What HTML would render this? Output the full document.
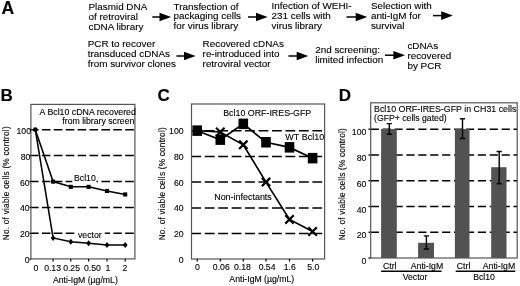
<!DOCTYPE html>
<html><head><meta charset="utf-8"><title>Figure</title>
<style>
html,body{margin:0;padding:0;background:#fff;}
body{width:520px;height:286px;overflow:hidden;}
svg{display:block;font-family:"Liberation Sans",sans-serif;fill:#000;}
text{stroke:#000;stroke-width:.12px;}
</style></head><body>
<svg width="520" height="286" viewBox="0 0 520 286">
<rect width="520" height="286" fill="#fff"/>
<text x="1.5" y="13.9" font-size="17.6" font-weight="bold">A</text>
<text x="88.5" y="9.9" font-size="9.9">Plasmid DNA</text>
<text x="88.5" y="19.7" font-size="9.9">of retroviral</text>
<text x="88.5" y="29.5" font-size="9.9">cDNA library</text>
<line x1="152.3" y1="17" x2="160.5" y2="17" stroke="#000" stroke-width="1.5"/><polygon points="159.5,12.7 171.1,17 159.5,21.3" fill="#000"/>
<text x="173.5" y="9.5" font-size="9.9">Transfection of</text>
<text x="173.5" y="19.3" font-size="9.9">packaging cells</text>
<text x="173.5" y="29.1" font-size="9.9">for virus library</text>
<line x1="248" y1="17" x2="257.0" y2="17" stroke="#000" stroke-width="1.5"/><polygon points="256.0,12.7 267.6,17 256.0,21.3" fill="#000"/>
<text x="271.5" y="9.3" font-size="9.9">Infection of WEHI-</text>
<text x="271.5" y="19.1" font-size="9.9">231 cells with</text>
<text x="271.5" y="29" font-size="9.9">virus library</text>
<line x1="346.5" y1="17" x2="356.7" y2="17" stroke="#000" stroke-width="1.5"/><polygon points="355.7,12.7 367.3,17 355.7,21.3" fill="#000"/>
<text x="370.9" y="9.1" font-size="9.9">Selection with</text>
<text x="370.9" y="18.9" font-size="9.9">anti-IgM for</text>
<text x="370.9" y="28.8" font-size="9.9">survival</text>
<line x1="433" y1="15.6" x2="442.2" y2="15.6" stroke="#000" stroke-width="1.5"/><polygon points="441.2,11.3 452.8,15.6 441.2,19.9" fill="#000"/>
<text x="87.7" y="47.3" font-size="9.9">PCR to recover</text>
<text x="87.7" y="57.3" font-size="9.9">transduced cDNAs</text>
<text x="87.7" y="67.3" font-size="9.9">from survivor clones</text>
<line x1="176.5" y1="56" x2="185.0" y2="56" stroke="#000" stroke-width="1.5"/><polygon points="184.0,51.7 195.6,56 184.0,60.3" fill="#000"/>
<text x="202.6" y="47.3" font-size="9.9">Recovered cDNAs</text>
<text x="202.6" y="57.3" font-size="9.9">re-introduced into</text>
<text x="202.6" y="67.3" font-size="9.9">retroviral vector</text>
<line x1="288.5" y1="56" x2="297.7" y2="56" stroke="#000" stroke-width="1.5"/><polygon points="296.7,51.7 308.3,56 296.7,60.3" fill="#000"/>
<text x="315.2" y="52.8" font-size="9.9">2nd screening:</text>
<text x="315.2" y="62.6" font-size="9.9">limited infection</text>
<line x1="385" y1="55.2" x2="394.4" y2="55.2" stroke="#000" stroke-width="1.5"/><polygon points="393.4,50.9 405.0,55.2 393.4,59.5" fill="#000"/>
<text x="407.4" y="49" font-size="9.9">cDNAs</text>
<text x="407.4" y="58.9" font-size="9.9">recovered</text>
<text x="407.4" y="68.5" font-size="9.9">by PCR</text>
<text x="0.6" y="100.8" font-size="17" font-weight="bold">B</text>
<line x1="30.9" y1="233.3" x2="134.9" y2="233.3" stroke="#000" stroke-width="1.5" stroke-dasharray="8.6 3.3" stroke-dashoffset="0.9"/>
<line x1="30.9" y1="207.4" x2="134.9" y2="207.4" stroke="#000" stroke-width="1.5" stroke-dasharray="8.6 3.3" stroke-dashoffset="0.9"/>
<line x1="30.9" y1="181.5" x2="134.9" y2="181.5" stroke="#000" stroke-width="1.5" stroke-dasharray="8.6 3.3" stroke-dashoffset="0.9"/>
<line x1="30.9" y1="155.6" x2="134.9" y2="155.6" stroke="#000" stroke-width="1.5" stroke-dasharray="8.6 3.3" stroke-dashoffset="0.9"/>
<line x1="30.9" y1="129.7" x2="134.9" y2="129.7" stroke="#000" stroke-width="1.5" stroke-dasharray="8.6 3.3" stroke-dashoffset="0.9"/>
<rect x="72.3" y="172.5" width="24.2" height="10.5" fill="#fff"/>
<rect x="76" y="231" width="28.8" height="9" fill="#fff"/>
<rect x="30.9" y="104.4" width="104.0" height="154.49999999999997" fill="none" stroke="#555" stroke-width="1.2"/>
<line x1="29.599999999999998" y1="259.2" x2="30.9" y2="259.2" stroke="#000" stroke-width="1.3"/>
<text x="29.6" y="263.2" font-size="8.7" text-anchor="end">0</text>
<line x1="29.599999999999998" y1="233.3" x2="30.9" y2="233.3" stroke="#000" stroke-width="1.3"/>
<text x="29.6" y="237.3" font-size="8.7" text-anchor="end">20</text>
<line x1="29.599999999999998" y1="207.4" x2="30.9" y2="207.4" stroke="#000" stroke-width="1.3"/>
<text x="29.6" y="211.4" font-size="8.7" text-anchor="end">40</text>
<line x1="29.599999999999998" y1="181.5" x2="30.9" y2="181.5" stroke="#000" stroke-width="1.3"/>
<text x="29.6" y="185.5" font-size="8.7" text-anchor="end">60</text>
<line x1="29.599999999999998" y1="155.6" x2="30.9" y2="155.6" stroke="#000" stroke-width="1.3"/>
<text x="30.3" y="159.6" font-size="8.7" text-anchor="end">80</text>
<line x1="29.599999999999998" y1="129.7" x2="30.9" y2="129.7" stroke="#000" stroke-width="1.3"/>
<text x="31.0" y="133.7" font-size="8.7" text-anchor="end">100</text>
<line x1="53.1" y1="258.9" x2="53.1" y2="261.4" stroke="#000" stroke-width="1.2"/>
<line x1="70.8" y1="258.9" x2="70.8" y2="261.4" stroke="#000" stroke-width="1.2"/>
<line x1="88.6" y1="258.9" x2="88.6" y2="261.4" stroke="#000" stroke-width="1.2"/>
<line x1="107" y1="258.9" x2="107" y2="261.4" stroke="#000" stroke-width="1.2"/>
<line x1="125.2" y1="258.9" x2="125.2" y2="261.4" stroke="#000" stroke-width="1.2"/>
<polyline fill="none" stroke="#000" stroke-width="1.55" points="35.3,129.7 53.1,181.6 70.8,186.8 88.6,186.8 107,191.0 125.2,194.4"/>
<polyline fill="none" stroke="#000" stroke-width="1.55" points="35.3,129.7 53.1,237.9 70.8,241.8 88.6,243.2 107,244.9 125.2,244.9"/>
<circle cx="35.3" cy="129.7" r="2.4" fill="#000"/>
<rect x="51.05" y="179.6" width="4.1" height="4.1" fill="#000"/>
<rect x="68.75" y="184.8" width="4.1" height="4.1" fill="#000"/>
<rect x="86.55" y="184.8" width="4.1" height="4.1" fill="#000"/>
<rect x="104.95" y="188.9" width="4.1" height="4.1" fill="#000"/>
<rect x="123.15" y="192.4" width="4.1" height="4.1" fill="#000"/>
<polygon points="53.1,234.9 55.5,237.9 53.1,240.9 50.7,237.9" fill="#000"/>
<polygon points="70.8,238.8 73.2,241.8 70.8,244.8 68.39999999999999,241.8" fill="#000"/>
<polygon points="88.6,240.2 91.0,243.2 88.6,246.2 86.19999999999999,243.2" fill="#000"/>
<polygon points="107,241.9 109.4,244.9 107,247.9 104.6,244.9" fill="#000"/>
<polygon points="125.2,241.9 127.60000000000001,244.9 125.2,247.9 122.8,244.9" fill="#000"/>
<text x="135.9" y="115" font-size="8.8" text-anchor="end">A Bcl10 cDNA recovered</text>
<text x="134.3" y="123.8" font-size="8.7" text-anchor="end">from library screen</text>
<text x="74" y="180.6" font-size="8.7">Bcl10</text>
<text x="78" y="238" font-size="8.7">vector</text>
<text x="36" y="270.5" font-size="8.7" text-anchor="middle">0</text>
<text x="52.6" y="270.5" font-size="8.7" text-anchor="middle">0.13</text>
<text x="71.6" y="270.5" font-size="8.7" text-anchor="middle">0.25</text>
<text x="92.4" y="270.5" font-size="8.7" text-anchor="middle">0.50</text>
<text x="107.9" y="270.5" font-size="8.7" text-anchor="middle">1</text>
<text x="125" y="270.5" font-size="8.7" text-anchor="middle">2</text>
<text x="85.4" y="282.9" font-size="8.7" text-anchor="middle">Anti-IgM (µg/mL)</text>
<text transform="translate(9.3,240.3) rotate(-90)" font-size="8.3" textLength="114" lengthAdjust="spacing">No. of viable cells (% control)</text>
<text x="157.4" y="101" font-size="17" font-weight="bold">C</text>
<line x1="191.3" y1="233.6" x2="324.6" y2="233.6" stroke="#000" stroke-width="1.5" stroke-dasharray="9.8 3.65"/>
<line x1="191.3" y1="207.9" x2="324.6" y2="207.9" stroke="#000" stroke-width="1.5" stroke-dasharray="9.8 3.65"/>
<line x1="191.3" y1="182.1" x2="324.6" y2="182.1" stroke="#000" stroke-width="1.5" stroke-dasharray="9.8 3.65"/>
<line x1="191.3" y1="156.4" x2="324.6" y2="156.4" stroke="#000" stroke-width="1.5" stroke-dasharray="9.8 3.65"/>
<line x1="191.3" y1="130.7" x2="324.6" y2="130.7" stroke="#000" stroke-width="1.5" stroke-dasharray="9.8 3.65"/>
<rect x="191.5" y="104" width="133.10000000000002" height="155" fill="none" stroke="#555" stroke-width="1.2"/>
<text x="183.6" y="262.8" font-size="8.7" text-anchor="end">0</text>
<text x="183.6" y="237.08" font-size="8.7" text-anchor="end">20</text>
<text x="183.6" y="211.36" font-size="8.7" text-anchor="end">40</text>
<text x="183.6" y="185.64000000000001" font-size="8.7" text-anchor="end">60</text>
<text x="183.6" y="159.92000000000002" font-size="8.7" text-anchor="end">80</text>
<text x="183.6" y="134.20000000000002" font-size="8.7" text-anchor="end">100</text>
<line x1="197.2" y1="259" x2="197.2" y2="261.5" stroke="#000" stroke-width="1.2"/>
<line x1="220.3" y1="259" x2="220.3" y2="261.5" stroke="#000" stroke-width="1.2"/>
<line x1="243.3" y1="259" x2="243.3" y2="261.5" stroke="#000" stroke-width="1.2"/>
<line x1="266" y1="259" x2="266" y2="261.5" stroke="#000" stroke-width="1.2"/>
<line x1="289.5" y1="259" x2="289.5" y2="261.5" stroke="#000" stroke-width="1.2"/>
<line x1="312.6" y1="259" x2="312.6" y2="261.5" stroke="#000" stroke-width="1.2"/>
<polyline fill="none" stroke="#000" stroke-width="1.7" points="197.2,130.7 220.3,139.7 243.3,123.9 266,142.3 289.5,147.4 312.6,158.2"/>
<polyline fill="none" stroke="#000" stroke-width="1.7" points="197.2,130.7 220.3,132.0 243.3,144.8 266,182.1 289.5,219.4 312.6,231.5"/>
<rect x="192.4" y="125.4" width="9.6" height="10.5" fill="#000"/>
<rect x="215.5" y="134.4" width="9.6" height="10.5" fill="#000"/>
<rect x="238.5" y="118.6" width="9.6" height="10.5" fill="#000"/>
<rect x="261.2" y="137.0" width="9.6" height="10.5" fill="#000"/>
<rect x="284.7" y="142.1" width="9.6" height="10.5" fill="#000"/>
<rect x="307.8" y="152.9" width="9.6" height="10.5" fill="#000"/>
<path d="M216.10000000000002,127.8 L224.5,136.2 M216.10000000000002,136.2 L224.5,127.8" stroke="#000" stroke-width="2.2" fill="none"/>
<path d="M239.10000000000002,140.6 L247.5,149.0 M239.10000000000002,149.0 L247.5,140.6" stroke="#000" stroke-width="2.2" fill="none"/>
<path d="M261.8,177.9 L270.2,186.3 M261.8,186.3 L270.2,177.9" stroke="#000" stroke-width="2.2" fill="none"/>
<path d="M285.3,215.2 L293.7,223.6 M285.3,223.6 L293.7,215.2" stroke="#000" stroke-width="2.2" fill="none"/>
<path d="M308.40000000000003,227.3 L316.8,235.7 M308.40000000000003,235.7 L316.8,227.3" stroke="#000" stroke-width="2.2" fill="none"/>
<text x="223.2" y="115.7" font-size="8.7" textLength="88" lengthAdjust="spacingAndGlyphs">Bcl10 ORF-IRES-GFP</text>
<text x="285.3" y="140" font-size="9">WT Bcl10</text>
<text x="214.2" y="200.1" font-size="8.95">Non-infectants</text>
<text x="197.5" y="269.5" font-size="8.7" text-anchor="middle">0</text>
<text x="221.3" y="269.5" font-size="8.7" text-anchor="middle">0.06</text>
<text x="242.5" y="269.5" font-size="8.7" text-anchor="middle">0.18</text>
<text x="267.1" y="269.5" font-size="8.7" text-anchor="middle">0.54</text>
<text x="289.7" y="269.5" font-size="8.7" text-anchor="middle">1.6</text>
<text x="313.3" y="269.5" font-size="8.7" text-anchor="middle">5.0</text>
<text x="261.8" y="281.5" font-size="8.7" text-anchor="middle">Anti-IgM (µg/mL)</text>
<text transform="translate(164.8,240.3) rotate(-90)" font-size="8.3" textLength="113" lengthAdjust="spacing">No. of viable cells (% control)</text>
<text x="338.7" y="101" font-size="17" font-weight="bold">D</text>
<line x1="370.7" y1="232.2" x2="517.2" y2="232.2" stroke="#000" stroke-width="1.5" stroke-dasharray="8.2 3.7"/><line x1="368.4" y1="232.2" x2="370.7" y2="232.2" stroke="#000" stroke-width="1.3"/>
<line x1="370.7" y1="206.5" x2="517.2" y2="206.5" stroke="#000" stroke-width="1.5" stroke-dasharray="8.2 3.7"/><line x1="368.4" y1="206.5" x2="370.7" y2="206.5" stroke="#000" stroke-width="1.3"/>
<line x1="370.7" y1="180.7" x2="517.2" y2="180.7" stroke="#000" stroke-width="1.5" stroke-dasharray="8.2 3.7"/><line x1="368.4" y1="180.7" x2="370.7" y2="180.7" stroke="#000" stroke-width="1.3"/>
<line x1="370.7" y1="155.0" x2="517.2" y2="155.0" stroke="#000" stroke-width="1.5" stroke-dasharray="8.2 3.7"/><line x1="368.4" y1="155.0" x2="370.7" y2="155.0" stroke="#000" stroke-width="1.3"/>
<line x1="370.7" y1="129.2" x2="517.2" y2="129.2" stroke="#000" stroke-width="1.5" stroke-dasharray="8.2 3.7"/><line x1="368.4" y1="129.2" x2="370.7" y2="129.2" stroke="#000" stroke-width="1.3"/>
<rect x="381.1" y="129" width="15.7" height="129.0" fill="#525252"/>
<path d="M389.3,123.6 V134.2 M386.7,123.6 H391.9 M386.7,134.2 H391.9" stroke="#000" stroke-width="1.4" fill="none"/>
<rect x="418.1" y="242.8" width="15.9" height="15.2" fill="#525252"/>
<path d="M426.4,235.9 V249 M423.8,235.9 H429.0 M423.8,249 H429.0" stroke="#000" stroke-width="1.4" fill="none"/>
<rect x="454.9" y="129" width="14.6" height="129.0" fill="#525252"/>
<path d="M462.5,118.8 V138.5 M459.9,118.8 H465.1 M459.9,138.5 H465.1" stroke="#000" stroke-width="1.4" fill="none"/>
<rect x="491.2" y="167.2" width="15.3" height="90.8" fill="#525252"/>
<path d="M499.2,151.5 V183.8 M496.6,151.5 H501.8 M496.6,183.8 H501.8" stroke="#000" stroke-width="1.4" fill="none"/>
<rect x="370.7" y="102.8" width="146.50000000000006" height="155.2" fill="none" stroke="#555" stroke-width="1.2"/>
<line x1="368.4" y1="258" x2="370.7" y2="258" stroke="#000" stroke-width="1.2"/>
<text x="366.3" y="264.0" font-size="8.7" text-anchor="end">0</text>
<text x="366.3" y="238.2" font-size="8.7" text-anchor="end">20</text>
<text x="366.3" y="212.5" font-size="8.7" text-anchor="end">40</text>
<text x="366.3" y="186.7" font-size="8.7" text-anchor="end">60</text>
<text x="366.3" y="161.0" font-size="8.7" text-anchor="end">80</text>
<text x="366.3" y="135.2" font-size="8.7" text-anchor="end">100</text>
<text x="374" y="111.7" font-size="8.7" textLength="142.4" lengthAdjust="spacingAndGlyphs">Bcl10 ORF-IRES-GFP in CH31 cells</text>
<text x="374" y="120.7" font-size="8.7">(GFP+ cells gated)</text>
<text x="389.8" y="268.6" font-size="8.7" text-anchor="middle">Ctrl</text>
<text x="427" y="268.6" font-size="8.7" text-anchor="middle">Anti-IgM</text>
<text x="463.6" y="268.6" font-size="8.7" text-anchor="middle">Ctrl</text>
<text x="499" y="268.6" font-size="8.7" text-anchor="middle">Anti-IgM</text>
<line x1="381.1" y1="271.3" x2="441.5" y2="271.3" stroke="#000" stroke-width="1.4"/>
<line x1="455.7" y1="271.3" x2="515.3" y2="271.3" stroke="#000" stroke-width="1.4"/>
<text x="415" y="280" font-size="8.7" text-anchor="middle">Vector</text>
<text x="484" y="280" font-size="8.7" text-anchor="middle">Bcl10</text>
<text transform="translate(345.3,240.3) rotate(-90)" font-size="8.3" textLength="112" lengthAdjust="spacing">No. of viable cells (% control)</text>
</svg>
</body></html>
